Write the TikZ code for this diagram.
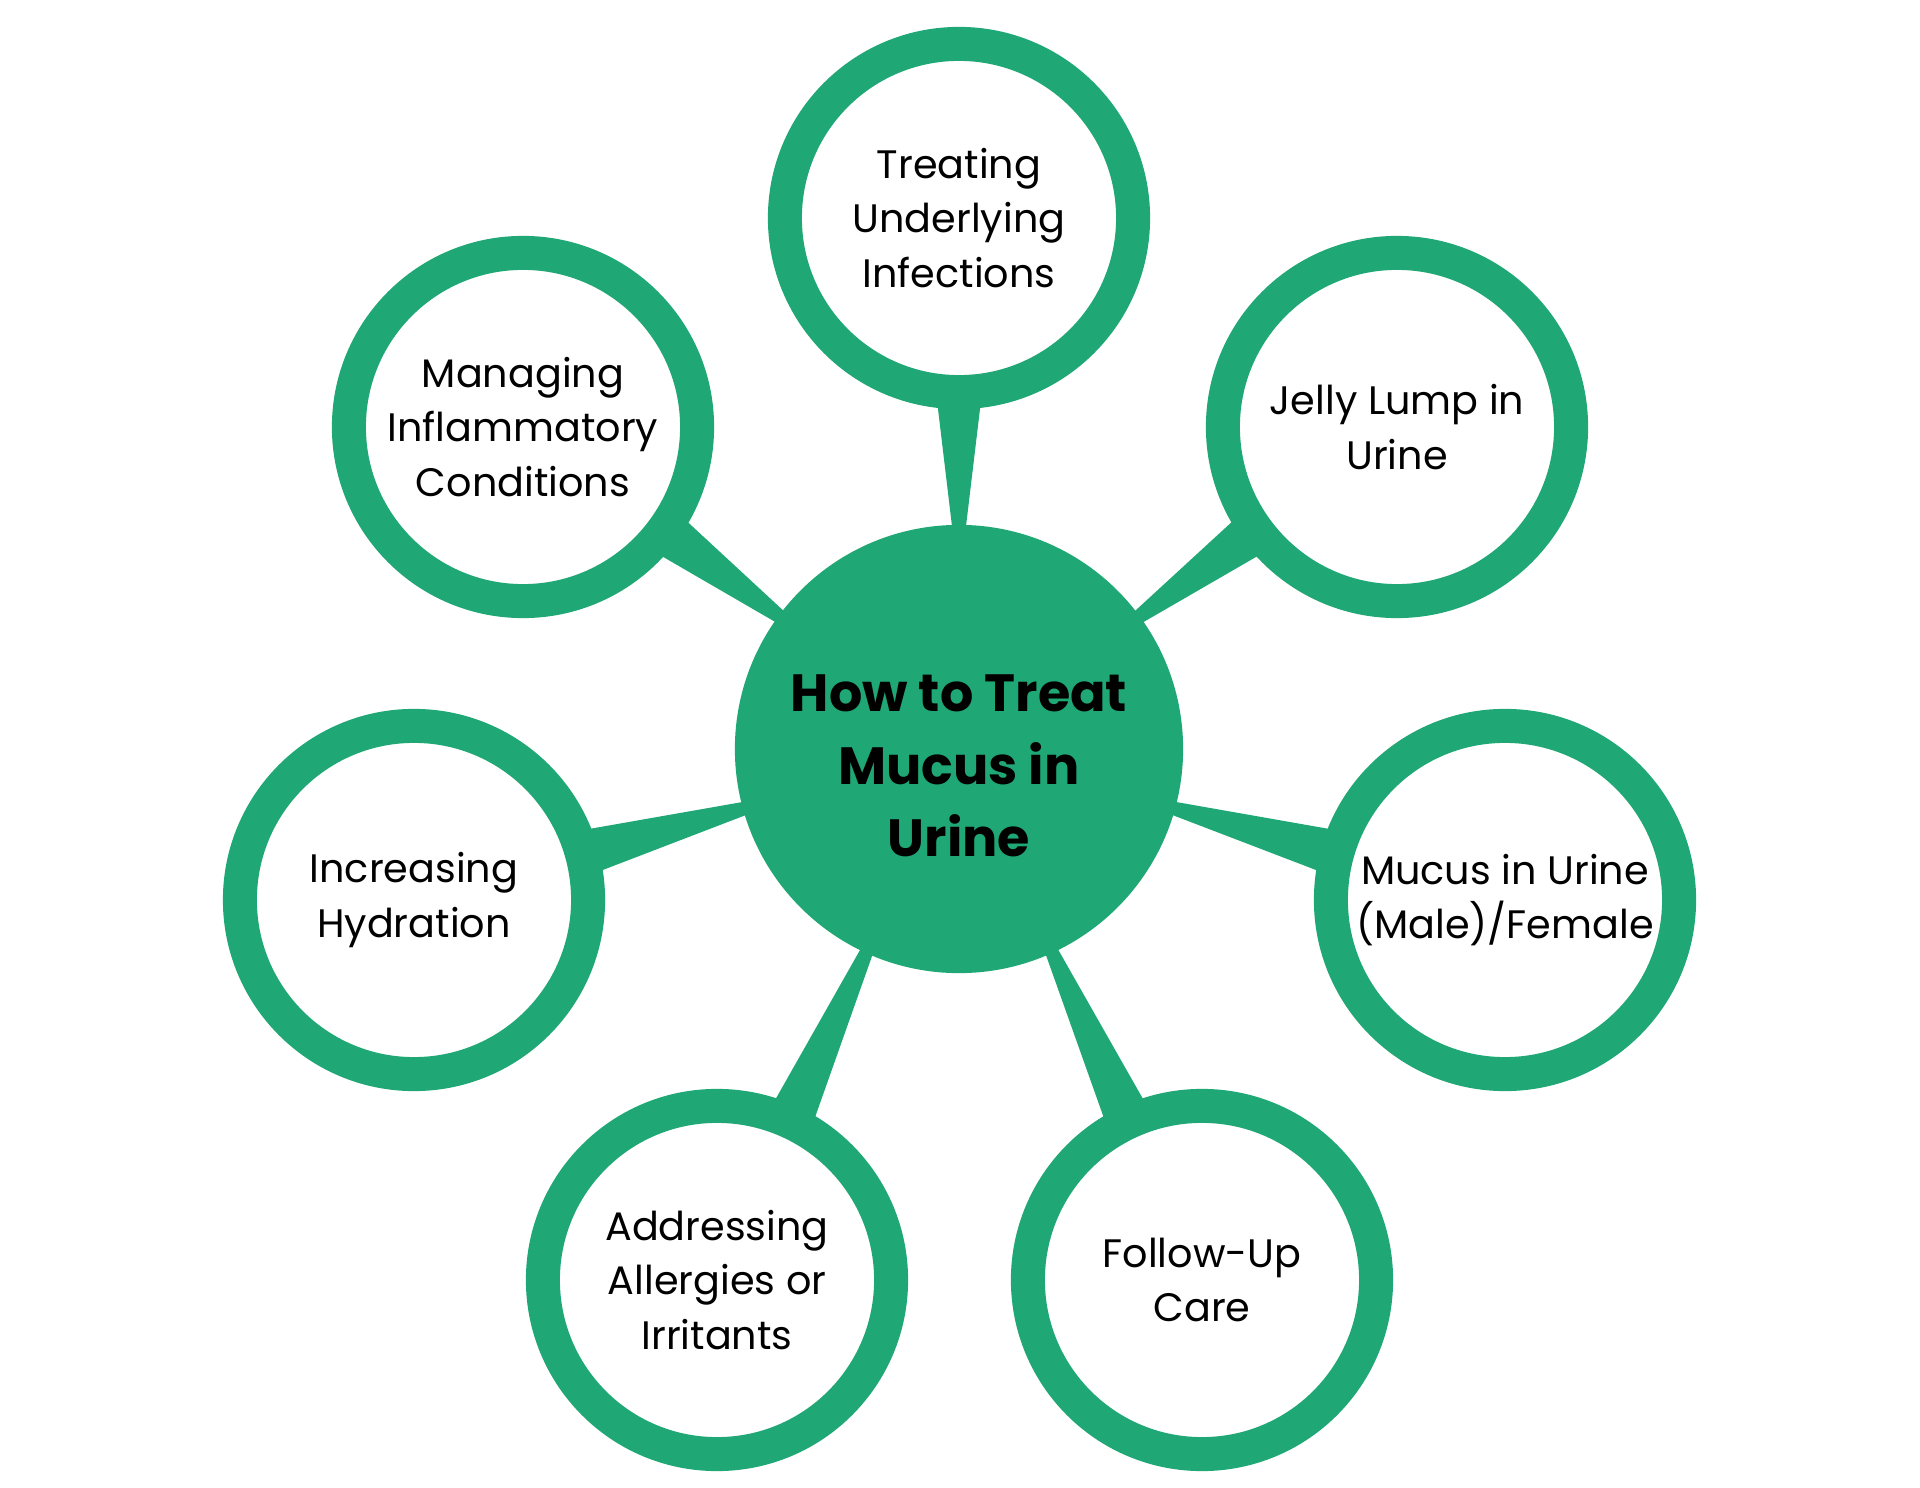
\documentclass[tikz,border=0pt]{standalone}
\usepackage{fontspec}
\setmainfont{Poppins}
\usetikzlibrary{positioning, calc, backgrounds}
\definecolor{mucusgreen}{RGB}{31,168,117}

\begin{document}
\begin{tikzpicture}[x=0.01cm, y=-0.01cm,
    leaf/.style={circle, draw=mucusgreen, line width=0.34cm, fill=white, minimum size=3.48cm, inner sep=0pt, align=center, font=\fontsize{11.3}{15.4}\selectfont},
    hub/.style={circle, fill=mucusgreen, minimum size=4.48cm, inner sep=0pt},
    title/.style={align=center, inner sep=0pt, font=\fontsize{14.9}{20.6}\selectfont\bfseries}]
    \useasboundingbox (0,0) rectangle (1920,1488);

    % Central topic
    \node[hub] (hub) at (959,749) {};
    \node[title] (topic) at ($(hub.center)+(0,17)$) {How to Treat\\Mucus in\\Urine};

    % The treatment bubbles
    \node[leaf] (treat) at (959,218) {Treating\\Underlying\\Infections};
    \node[leaf] (inflame) at (523,427) {Managing\\Inflammatory\\Conditions};
    \node[leaf] (jelly) at (1397,427) {Jelly Lump in\\Urine};
    \node[leaf] (hydrate) at (414,900) {Increasing\\Hydration};
    \node[leaf] (gender) at (1505,900) {Mucus in Urine\\(Male)/Female};
    \node[leaf] (allergy) at (717,1280) {Addressing\\Allergies or\\Irritants};
    \node[leaf] (followup) at (1202,1280) {Follow-Up\\Care};

    % Tapered stems from hub to bubbles
    \begin{scope}[on background layer]
        \foreach \leaf in {treat, inflame, jelly, hydrate, gender, allergy, followup} {
            \coordinate (a) at ($(\leaf.center)!1.74cm!(hub.center)$);
            \coordinate (b) at ($(hub.center)!2.1cm!(\leaf.center)$);
            \fill[mucusgreen] ($(a)!0.23cm!90:(b)$) -- ($(b)!0.055cm!-90:(a)$)
                -- ($(b)!0.055cm!90:(a)$) -- ($(a)!0.23cm!-90:(b)$) -- cycle;
        }
    \end{scope}
\end{tikzpicture}
\end{document}
